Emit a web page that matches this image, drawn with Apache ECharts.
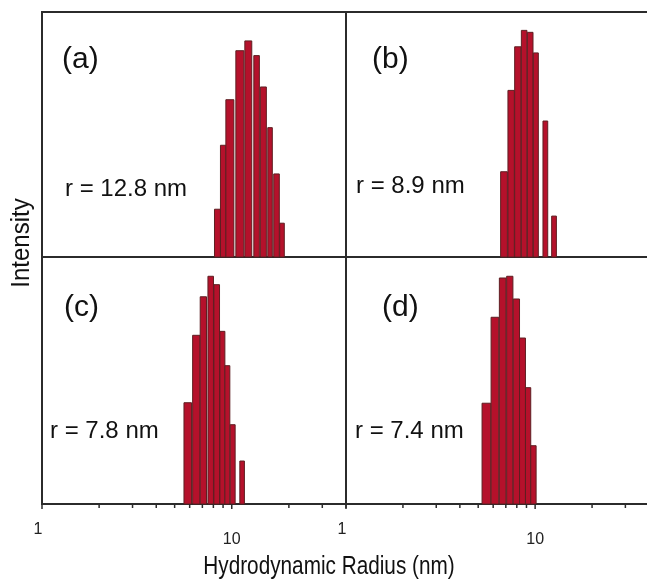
<!DOCTYPE html>
<html>
<head>
<meta charset="utf-8">
<script src="https://cdn.jsdelivr.net/npm/echarts@6/dist/echarts.min.js"></script>
<style>html,body{margin:0;padding:0;background:#fff;overflow:hidden;}#c{width:652px;height:582px;}</style>
</head>
<body>
<div id="c"></div>
<script>
// ---- data ----
const panelLabels = ['(a)', '(b)', '(c)', '(d)'];
const radiusLabels = ['r = 12.8 nm', 'r = 8.9 nm', 'r = 7.8 nm', 'r = 7.4 nm'];

const binLeftA  = [8.11, 8.72, 9.31, 10.51, 11.72, 13.07, 14.15, 15.48, 16.64, 17.89];
const binRightA = [8.72, 9.31, 10.26, 11.58, 12.75, 13.98, 15.22, 16.36, 17.81, 18.92];
const intensityA = [19.5, 45.6, 64.2, 84.2, 88.2, 82.2, 69.4, 52.8, 33.9, 13.8];

const binLeftB  = [6.49, 7.09, 7.69, 8.34, 8.97, 9.64, 10.83, 12.03];
const binRightB = [7.04, 7.66, 8.30, 8.92, 9.60, 10.24, 11.47, 12.74];
const intensityB = [34.8, 68.0, 85.8, 92.5, 91.7, 83.3, 55.5, 16.7];

const binLeftC  = [5.60, 6.22, 6.82, 7.49, 8.05, 8.66, 9.20, 9.81, 11.03];
const binRightC = [6.14, 6.80, 7.36, 8.01, 8.62, 9.20, 9.77, 10.42, 11.66];
const intensityC = [41.0, 68.3, 83.9, 92.2, 88.8, 69.9, 56.0, 32.1, 17.4];

const binLeftD  = [5.24, 5.85, 6.47, 7.07, 7.66, 8.27, 8.89, 9.48];
const binRightD = [5.83, 6.42, 7.01, 7.63, 8.27, 8.89, 9.48, 10.12];
const intensityD = [40.8, 75.6, 91.5, 92.2, 83.0, 67.2, 47.1, 23.6];

const xMin = 1, xMax = 40;
const labeledTicks = [1, 10];
const tickValues = [1, 2, 3, 4, 5, 6, 7, 8, 9, 10, 20, 30, 40];
const xTitle = 'Hydrodynamic Radius (nm)';
const yTitle = 'Intensity';

// ---- build ----
const FONT = '"Liberation Sans", Arial, sans-serif';
const grids = [
  {left: 42, top: 12, width: 304, height: 245},
  {left: 346, top: 12, width: 305, height: 245},
  {left: 42, top: 257, width: 304, height: 247},
  {left: 346, top: 257, width: 305, height: 247}
].map(g => Object.assign(g, {show: true, borderColor: '#2b2b2b', borderWidth: 2, backgroundColor: 'transparent'}));

const bins = [
  [binLeftA, binRightA, intensityA],
  [binLeftB, binRightB, intensityB],
  [binLeftC, binRightC, intensityC],
  [binLeftD, binRightD, intensityD]
];

const xAxes = grids.map((g, i) => ({
  type: 'log', logBase: 10, min: xMin, max: xMax, gridIndex: i,
  axisLine: {show: false}, axisTick: {show: false}, splitLine: {show: false},
  axisLabel: {
    show: i >= 2, margin: 18, color: '#222', fontFamily: FONT, fontSize: 16,
    formatter: v => {
      if (Math.abs(v - 1) < 1e-6) return '{a|1}';
      if (Math.abs(v - 10) < 1e-6) return '{b|10}';
      return '';
    },
    rich: {
      a: {fontFamily: FONT, fontSize: 16, color: '#222', padding: [0, 8, 10, 0]},
      b: {fontFamily: FONT, fontSize: 16, color: '#222', padding: [10, 0, 0, 0]}
    }
  }
}));
const yAxes = grids.map((g, i) => ({
  type: 'value', min: 0, max: 100, gridIndex: i, show: false
}));

const series = [];
bins.forEach((b, i) => {
  series.push({
    type: 'custom', xAxisIndex: i, yAxisIndex: i,
    data: b[0].map((l, k) => [l, b[1][k], b[2][k]]),
    renderItem: (params, api) => {
      const p0 = api.coord([api.value(0), 0]);
      const p1 = api.coord([api.value(1), api.value(2)]);
      return {
        type: 'rect',
        shape: {x: p0[0], y: p1[1], width: p1[0] - p0[0], height: p0[1] - p1[1]},
        style: {fill: '#b5112b', stroke: '#5e1f22', lineWidth: 1}
      };
    }
  });
});
[2, 3].forEach(i => {
  series.push({
    type: 'custom', xAxisIndex: i, yAxisIndex: i, clip: false, silent: true,
    data: tickValues.map(v => [v]),
    renderItem: (params, api) => {
      const p = api.coord([api.value(0), 0]);
      const big = labeledTicks.indexOf(api.value(0)) >= 0;
      return {
        type: 'line',
        shape: {x1: p[0], y1: p[1], x2: p[0], y2: p[1] + (big ? 5 : 4)},
        style: {stroke: '#2b2b2b', lineWidth: 1.5}
      };
    }
  });
});

const labelPos = [[62, 62], [372, 62], [64, 310], [382, 310]];
const rPos = [[65, 190], [356, 187], [50, 432], [355, 432]];
const graphics = [];
panelLabels.forEach((t, i) => graphics.push({
  type: 'text', left: labelPos[i][0], top: labelPos[i][1] - 17,
  style: {text: t, font: '30px ' + FONT, fill: '#111'}
}));
radiusLabels.forEach((t, i) => graphics.push({
  type: 'text', left: rPos[i][0], top: rPos[i][1] - 13,
  style: {text: t, font: '24px ' + FONT, fill: '#111'}
}));
graphics.push({
  type: 'text', x: 22, y: 243, rotation: Math.PI / 2, scaleX: 1, scaleY: 1.05,
  style: {text: yTitle, font: '24px ' + FONT, fill: '#111', align: 'center', verticalAlign: 'middle'}
});
graphics.push({
  type: 'text', x: 329, y: 567, scaleX: 0.83,
  style: {text: xTitle, font: '25px ' + FONT, fill: '#111', align: 'center', verticalAlign: 'middle'}
});

const chart = echarts.init(document.getElementById('c'), null, {renderer: 'canvas'});
chart.setOption({
  animation: false,
  backgroundColor: '#fff',
  grid: grids, xAxis: xAxes, yAxis: yAxes, series: series, graphic: graphics
});
</script>
</body>
</html>
